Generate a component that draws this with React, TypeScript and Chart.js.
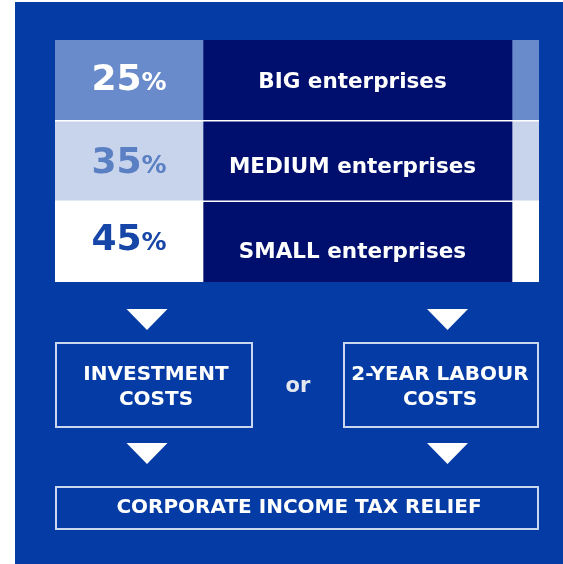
import { useEffect, useRef } from "react";
import { Chart, registerables } from "chart.js";

Chart.register(...registerables);

// ---- data ----
const SIZES = ["BIG enterprises", "MEDIUM enterprises", "SMALL enterprises"];
const RELIEF_RATES = [25, 35, 45];
const COST_OPTIONS = [
  ["INVESTMENT", "COSTS"],
  ["2-YEAR LABOUR", "COSTS"],
];
const CONNECTOR = "or";
const RESULT = "CORPORATE INCOME TAX RELIEF";

// ---- layout / style ----
const COLUMN_SPANS = [148, 309, 27];
const BG_BLUE = "#053ba5";
const NAVY = "#000f6e";
const CELL_COLORS = ["#6a8bcb", "#c7d4ec", "#ffffff"];
const RATE_TEXT_COLORS = ["#ffffff", "#5a7fc3", "#1646a8"];
const RATE_DY = [10, 12, 8];
const NAME_DY = [8, 12, 16];
const BORDER = "#c9d6ef";
const FONT = '"DejaVu Sans", Verdana, sans-serif';

const infographic = {
  id: "infographic",
  beforeDraw(chart: any) {
    const { ctx, width, height } = chart;
    ctx.save();
    ctx.fillStyle = "#ffffff";
    ctx.fillRect(0, 0, width, height);
    ctx.fillStyle = BG_BLUE;
    ctx.fillRect(15, 2, width - 15, height - 2);
    ctx.restore();
  },
  afterDatasetsDraw(chart: any) {
    const { ctx, chartArea } = chart;
    const yScale = chart.scales.y;
    const L = chartArea.left;
    const R = chartArea.right;
    const B = chartArea.bottom;
    ctx.save();

    // row separators
    ctx.strokeStyle = "#ffffff";
    ctx.lineWidth = 1.5;
    for (let i = 1; i < SIZES.length; i++) {
      const yb = (yScale.getPixelForValue(i - 1) + yScale.getPixelForValue(i)) / 2;
      ctx.beginPath();
      ctx.moveTo(L, yb);
      ctx.lineTo(R, yb);
      ctx.stroke();
    }

    // rates
    const meta0 = chart.getDatasetMeta(0);
    const meta1 = chart.getDatasetMeta(1);
    ctx.textBaseline = "alphabetic";
    RELIEF_RATES.forEach((r, i) => {
      const el = meta0.data[i];
      const cx = (el.base + el.x) / 2;
      const num = String(r);
      ctx.font = `bold 36px ${FONT}`;
      const w1 = ctx.measureText(num).width;
      ctx.font = `bold 25px ${FONT}`;
      const w2 = ctx.measureText("%").width;
      const x0 = cx - (w1 + w2) / 2;
      const y = el.y + RATE_DY[i];
      ctx.fillStyle = RATE_TEXT_COLORS[i];
      ctx.textAlign = "left";
      ctx.font = `bold 36px ${FONT}`;
      ctx.fillText(num, x0, y);
      ctx.font = `bold 25px ${FONT}`;
      ctx.fillText("%", x0 + w1, y);
    });

    // names
    ctx.fillStyle = "#ffffff";
    ctx.textAlign = "center";
    ctx.font = `bold 21.5px ${FONT}`;
    SIZES.forEach((s, i) => {
      const el = meta1.data[i];
      const cx = (el.base + el.x) / 2 - 5;
      ctx.fillText(s, cx, el.y + NAME_DY[i]);
    });

    // flow
    const arrow = (cx: number, top: number) => {
      ctx.fillStyle = "#ffffff";
      ctx.beginPath();
      ctx.moveTo(cx - 20.5, top);
      ctx.lineTo(cx + 20.5, top);
      ctx.lineTo(cx, top + 21);
      ctx.closePath();
      ctx.fill();
    };
    const box = (x1: number, y1: number, x2: number, y2: number) => {
      ctx.strokeStyle = BORDER;
      ctx.lineWidth = 2;
      ctx.strokeRect(x1 + 1, y1 + 1, x2 - x1 - 2, y2 - y1 - 2);
    };
    const a1 = L + 92;
    const a2 = R - 91.5;
    arrow(a1, B + 27);
    arrow(a2, B + 27);

    const boxTop = B + 60;
    const boxBot = B + 146;
    const boxes = [
      [L, L + 198],
      [R - 196, R],
    ];
    ctx.font = `bold 20px ${FONT}`;
    boxes.forEach(([x1, x2], i) => {
      box(x1, boxTop, x2, boxBot);
      ctx.fillStyle = "#ffffff";
      ctx.textAlign = "center";
      const cx = (x1 + x2) / 2 + (i === 0 ? 2 : -1);
      COST_OPTIONS[i].forEach((line, j) => {
        ctx.fillText(line, cx, boxTop + 38 + j * 25);
      });
    });
    ctx.fillStyle = "#e3e7f0";
    ctx.font = `bold 21px ${FONT}`;
    ctx.fillText(CONNECTOR, (boxes[0][1] + boxes[1][0]) / 2, boxTop + 50);

    arrow(a1, B + 161);
    arrow(a2, B + 161);

    const rTop = B + 204;
    const rBot = B + 248;
    box(L, rTop, R, rBot);
    ctx.fillStyle = "#ffffff";
    ctx.font = `bold 20px ${FONT}`;
    ctx.fillText(RESULT, (L + R) / 2 + 2, rTop + 27);

    ctx.restore();
  },
};

export default function App() {
  const ref = useRef<HTMLCanvasElement | null>(null);
  useEffect(() => {
    document.body.style.margin = "0";
    const canvas = ref.current!;
    const chart = new Chart(canvas, {
      type: "bar",
      data: {
        labels: SIZES,
        datasets: [
          {
            label: "rate",
            data: SIZES.map(() => COLUMN_SPANS[0]),
            backgroundColor: CELL_COLORS,
          },
          {
            label: "size",
            data: SIZES.map(() => COLUMN_SPANS[1]),
            backgroundColor: NAVY,
          },
          {
            label: "strip",
            data: SIZES.map(() => COLUMN_SPANS[2]),
            backgroundColor: CELL_COLORS,
          },
        ].map((d) => ({
          ...d,
          barPercentage: 1,
          categoryPercentage: 1,
          borderWidth: 0,
        })),
      },
      options: {
        indexAxis: "y",
        responsive: false,
        animation: false,
        devicePixelRatio: 1,
        layout: { padding: { left: 55, right: 24, top: 40, bottom: 282 } },
        scales: {
          x: {
            stacked: true,
            display: false,
            min: 0,
            max: COLUMN_SPANS.reduce((a, b) => a + b, 0),
          },
          y: { stacked: true, display: false },
        },
        plugins: {
          legend: { display: false },
          tooltip: { enabled: false },
        },
      },
      plugins: [infographic],
    } as any);
    return () => chart.destroy();
  }, []);
  return (
    <div style={{ position: "fixed", left: 0, top: 0, width: 563, height: 564 }}>
      <canvas ref={ref} width={563} height={564} style={{ display: "block" }} />
    </div>
  );
}
